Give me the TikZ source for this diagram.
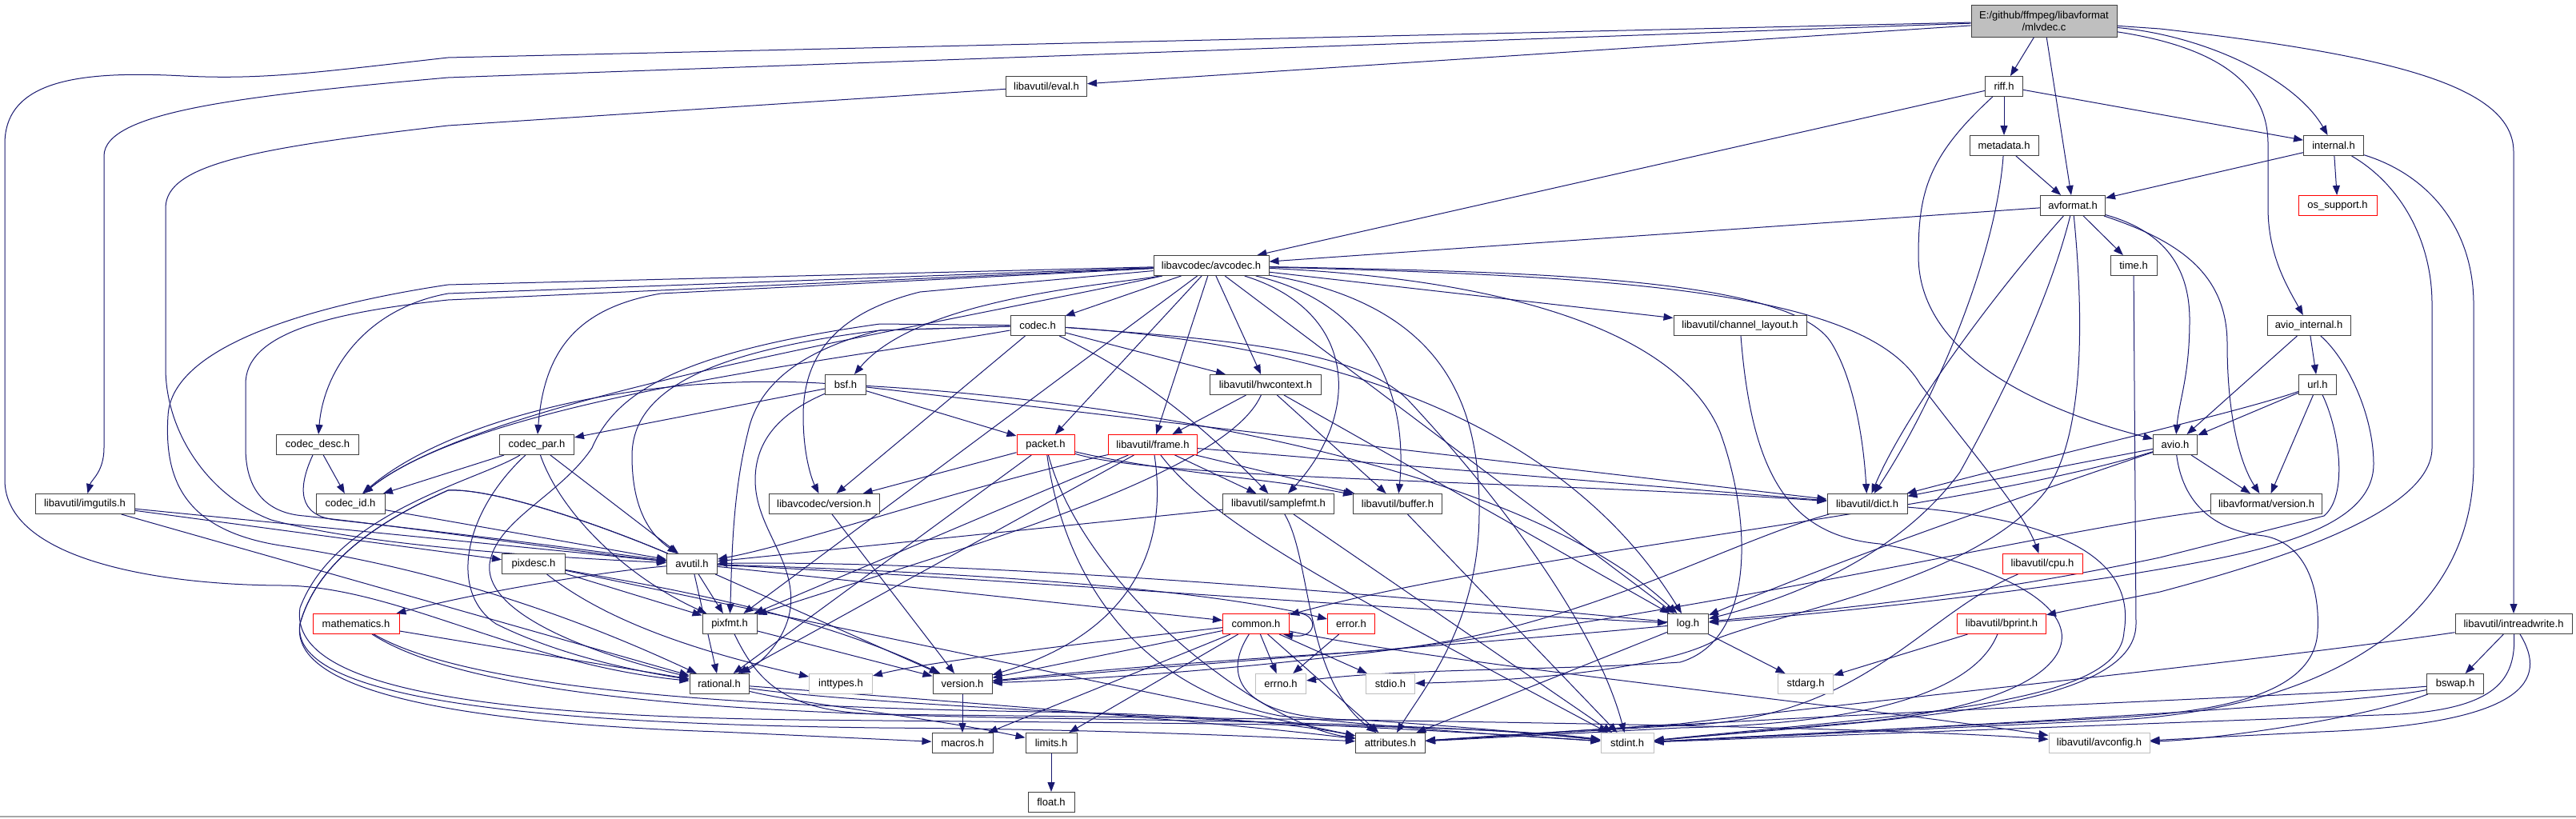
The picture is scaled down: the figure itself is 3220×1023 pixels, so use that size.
\documentclass[tikz,border=0pt]{standalone}
\usepackage{fontspec}
\setmainfont{Liberation Sans}
\usetikzlibrary{arrows.meta}
\definecolor{edgec}{HTML}{191970}
\definecolor{boxc}{HTML}{404040}
\definecolor{grayc}{HTML}{BFBFBF}
\pgfdeclarelayer{bg}
\pgfsetlayers{bg,main}
\begin{document}
\begin{tikzpicture}[x=1pt,y=-1pt,
  nb/.style={draw=boxc, fill=white, line width=1pt, minimum height=25pt, inner sep=0pt, font=\fontsize{13}{15}\selectfont},
  nred/.style={nb, draw=red},
  ngray/.style={nb, draw=grayc},
  e/.style={draw=edgec, line width=1pt, -{Triangle[length=12pt,width=9pt]}}]
\useasboundingbox (0,0) rectangle (3220,1023);
% nodes
\node[nb, fill=grayc, minimum width=182pt, minimum height=40pt, align=center] (mainfile) at (2555,26) {E:/github/ffmpeg/libavformat\\/mlvdec.c};
\node[nb, minimum width=47pt] (riff) at (2505,108) {riff.h};
\node[nb, minimum width=101pt] (eval) at (1308,108) {libavutil/eval.h};
\node[nb, minimum width=86pt] (metadata) at (2505,182) {metadata.h};
\node[nb, minimum width=75pt] (internal) at (2917,182) {internal.h};
\node[nb, minimum width=81pt] (avformat) at (2591,257) {avformat.h};
\node[nred, minimum width=98pt] (osupport) at (2922,257) {os\_support.h};
\node[nb, minimum width=144pt] (avcodec) at (1514,332) {libavcodec/avcodec.h};
\node[nb, minimum width=58pt] (timeh) at (2667,332) {time.h};
\node[nb, minimum width=68pt] (codec) at (1297,407) {codec.h};
\node[nb, minimum width=166pt] (chlayout) at (2175,407) {libavutil/channel\_layout.h};
\node[nb, minimum width=104pt] (avioint) at (2886,407) {avio\_internal.h};
\node[nb, minimum width=51pt] (bsf) at (1057,481) {bsf.h};
\node[nb, minimum width=139pt] (hwcontext) at (1582,481) {libavutil/hwcontext.h};
\node[nb, minimum width=47pt] (url) at (2897,481) {url.h};
\node[nb, minimum width=103pt] (codecdesc) at (397,556) {codec\_desc.h};
\node[nb, minimum width=93pt] (codecpar) at (671,556) {codec\_par.h};
\node[nred, minimum width=72pt] (packet) at (1307,556) {packet.h};
\node[nred, minimum width=111pt] (frame) at (1441,556) {libavutil/frame.h};
\node[nb, minimum width=55pt] (avio) at (2719,556) {avio.h};
\node[nb, minimum width=124pt] (imgutils) at (106,630) {libavutil/imgutils.h};
\node[nb, minimum width=86pt] (codecid) at (438,630) {codec\_id.h};
\node[nb, minimum width=138pt] (lcversion) at (1030,630) {libavcodec/version.h};
\node[nb, minimum width=139pt] (samplefmt) at (1598,630) {libavutil/samplefmt.h};
\node[nb, minimum width=111pt] (buffer) at (1747,630) {libavutil/buffer.h};
\node[nb, minimum width=100pt] (dict) at (2334,630) {libavutil/dict.h};
\node[nb, minimum width=139pt] (lfversion) at (2833,630) {libavformat/version.h};
\node[nb, minimum width=79pt] (pixdesc) at (667,705) {pixdesc.h};
\node[nb, minimum width=63pt] (avutil) at (865,705) {avutil.h};
\node[nred, minimum width=100pt] (cpu) at (2553,705) {libavutil/cpu.h};
\node[nred, minimum width=108pt] (mathematics) at (445,780) {mathematics.h};
\node[nb, minimum width=68pt] (pixfmt) at (912,780) {pixfmt.h};
\node[nred, minimum width=83pt] (common) at (1570,780) {common.h};
\node[nred, minimum width=59pt] (errorh) at (1689,780) {error.h};
\node[nb, minimum width=51pt] (logh) at (2110,780) {log.h};
\node[nred, minimum width=111pt] (bprint) at (2502,780) {libavutil/bprint.h};
\node[nb, minimum width=146pt] (intreadwrite) at (3142,780) {libavutil/intreadwrite.h};
\node[nb, minimum width=74pt] (rational) at (899,855) {rational.h};
\node[ngray, minimum width=79pt] (inttypes) at (1051,855) {inttypes.h};
\node[nb, minimum width=74pt] (version) at (1203,855) {version.h};
\node[ngray, minimum width=63pt] (errno) at (1601,855) {errno.h};
\node[ngray, minimum width=61pt] (stdio) at (1738,855) {stdio.h};
\node[ngray, minimum width=69pt] (stdarg) at (2257,855) {stdarg.h};
\node[nb, minimum width=71pt] (bswap) at (3069,855) {bswap.h};
\node[nb, minimum width=76pt] (macros) at (1203,929) {macros.h};
\node[nb, minimum width=64pt] (limits) at (1314,929) {limits.h};
\node[nb, minimum width=87pt] (attributes) at (1738,929) {attributes.h};
\node[ngray, minimum width=66pt] (stdint) at (2034,929) {stdint.h};
\node[ngray, minimum width=126pt] (avconfig) at (2624,929) {libavutil/avconfig.h};
\node[nb, minimum width=58pt] (floath) at (1314,1003) {float.h};

\begin{pgfonlayer}{bg}
\fill[white] (0,0) rectangle (3220,1023);
\draw[black!35, line width=2pt] (0,1021) -- (3220,1021);
% main
\draw[e] (mainfile) -- (eval);
\draw[e] (mainfile) -- (560,72) .. controls (400,90) and (330,100) .. (230,95) .. controls (100,88) and (6,100) .. (6,180) -- (6,600) .. controls (6,700) and (200,732) .. (357,732) .. controls (500,735) and (650,830) .. (rational);
\draw[e] (mainfile) -- (560,97) .. controls (300,120) and (130,140) .. (130,195) -- (130,560) .. controls (130,590) and (114,600) .. (imgutils);
\draw[e] (mainfile) -- (2700,36) .. controls (3000,70) and (3142,110) .. (3142,190) -- (intreadwrite);
\draw[e] (mainfile) .. controls (2760,45) and (2870,100) .. (internal);
\draw[e] (mainfile) .. controls (2780,60) and (2835,110) .. (2835,180) -- (2835,260) .. controls (2835,320) and (2860,360) .. (avioint);
\draw[e] (mainfile) -- (riff);
\draw[e] (mainfile) -- (avformat);
% riff
\draw[e] (riff) -- (avcodec);
\draw[e] (riff) -- (internal);
\draw[e] (riff) -- (metadata);
\draw[e] (riff) .. controls (2410,195) and (2398,240) .. (2398,320) .. controls (2398,440) and (2540,510) .. (avio);
% metadata
\draw[e] (metadata) -- (avformat);
\draw[e] (metadata) .. controls (2495,320) and (2420,500) .. (dict);
% avformat
\draw[e] (avformat) -- (avcodec);
\draw[e] (avformat) -- (timeh);
\draw[e] (avformat) .. controls (2490,370) and (2380,520) .. (dict);
\draw[e] (avformat) .. controls (2560,380) and (2500,500) .. (2450,590) .. controls (2370,700) and (2230,750) .. (logh);
\draw[e] (avformat) .. controls (2605,400) and (2605,540) .. (2560,610) .. controls (2480,720) and (2250,760) .. (2150,797) .. controls (2100,830) and (1950,850) .. (stdio);
\draw[e] (avformat) .. controls (2690,285) and (2737,320) .. (2737,400) .. controls (2737,470) and (2724,500) .. (avio);
\draw[e] (avformat) .. controls (2720,300) and (2784,340) .. (2784,430) .. controls (2784,520) and (2800,580) .. (lfversion);
% time
\draw[e] (timeh) -- (2670,780) .. controls (2670,890) and (2350,900) .. (stdint);
% internal
\draw[e] (internal) -- (osupport);
\draw[e] (internal) -- (avformat);
\draw[e] (internal) .. controls (3000,230) and (3040,300) .. (3040,380) -- (3040,560) .. controls (3040,640) and (2850,700) .. (2700,740) -- (bprint);
\draw[e] (internal) .. controls (3040,220) and (3092,290) .. (3092,380) -- (3092,580) .. controls (3092,780) and (2900,885) .. (2650,900) -- (stdint);
% avio_internal
\draw[e] (avioint) -- (url);
\draw[e] (avioint) -- (avio);
\draw[e] (avioint) .. controls (2935,450) and (2967,520) .. (2967,580) .. controls (2967,670) and (2800,695) .. (2650,720) .. controls (2450,750) and (2250,770) .. (logh);
% url
\draw[e] (url) -- (avio);
\draw[e] (url) .. controls (2800,515) and (2600,560) .. (dict);
\draw[e] (url) -- (lfversion);
\draw[e] (url) .. controls (2925,540) and (2935,620) .. (2905,645) -- (2700,697) .. controls (2450,750) and (2250,765) .. (logh);
% avio
\draw[e] (avio) -- (lfversion);
\draw[e] (avio) -- (dict);
\draw[e] (avio) .. controls (2450,640) and (1900,690) .. (common);
\draw[e] (avio) .. controls (2500,630) and (2300,700) .. (logh);
\draw[e] (avio) .. controls (2730,640) and (2780,665) .. (2830,670) .. controls (2885,680) and (2900,740) .. (2897,790) .. controls (2893,860) and (2800,888) .. (2650,897) -- (stdint);
% libavformat/version
\draw[e] (lfversion) .. controls (2500,670) and (1900,830) .. (version);
% avcodec
\draw[e] (avcodec) -- (codec);
\draw[e] (avcodec) -- (hwcontext);
\draw[e] (avcodec) -- (chlayout);
\draw[e] (avcodec) .. controls (1400,355) and (1150,370) .. (bsf);
\draw[e] (avcodec) -- (560,367) .. controls (460,385) and (405,460) .. (codecdesc);
\draw[e] (avcodec) -- (560,375) .. controls (400,392) and (307,420) .. (307,480) -- (307,560) .. controls (307,620) and (340,642) .. (380,645) .. controls (520,660) and (720,690) .. (avutil);
\draw[e] (avcodec) -- (560,356) .. controls (400,380) and (214,430) .. (210,520) .. controls (205,600) and (230,665) .. (357,683) .. controls (600,720) and (780,800) .. (rational);
\draw[e] (avcodec) .. controls (1100,420) and (600,500) .. (codecid);
\draw[e] (avcodec) -- (826,367) .. controls (720,385) and (680,440) .. (codecpar);
\draw[e] (avcodec) -- (1150,365) .. controls (1050,390) and (1004,440) .. (1004,520) .. controls (1004,570) and (1015,600) .. (lcversion);
\draw[e] (avcodec) -- (packet);
\draw[e] (avcodec) -- (frame);
\draw[e] (avcodec) -- (pixfmt);
\draw[e] (avcodec) .. controls (1700,390) and (1700,520) .. (samplefmt);
\draw[e] (avcodec) .. controls (1720,380) and (1760,500) .. (buffer);
\draw[e] (avcodec) -- (logh);
\draw[e] (avcodec) .. controls (1900,340) and (2240,345) .. (2290,430) .. controls (2320,480) and (2330,560) .. (dict);
\draw[e] (avcodec) .. controls (2000,345) and (2330,360) .. (2400,480) .. controls (2460,560) and (2530,640) .. (cpu);
\draw[e] (avcodec) .. controls (1800,380) and (1850,500) .. (1849,640) .. controls (1849,780) and (1780,860) .. (attributes);
\draw[e] (avcodec) .. controls (1900,350) and (2100,420) .. (2150,540) .. controls (2190,650) and (2195,800) .. (2100,828) .. controls (1950,838) and (1750,836) .. (errno);
% codec
\draw[e] (codec) -- (hwcontext);
\draw[e] (codec) -- (lcversion);
\draw[e] (codec) .. controls (1450,480) and (1530,560) .. (samplefmt);
\draw[e] (codec) .. controls (1650,430) and (1950,520) .. (logh);
\draw[e] (codec) .. controls (1550,425) and (1700,440) .. (1760,500) .. controls (1900,650) and (2000,800) .. (stdint);
\draw[e] (codec) -- (1100,405) .. controls (850,440) and (770,490) .. (740,560) .. controls (700,620) and (620,650) .. (612,705) .. controls (605,770) and (750,820) .. (rational);
\draw[e] (codec) -- (1100,413) .. controls (880,440) and (790,490) .. (790,570) .. controls (790,640) and (815,670) .. (avutil);
\draw[e] (codec) -- (1100,413) .. controls (1020,433) and (950,470) .. (935,540) .. controls (915,620) and (915,700) .. (pixfmt);
\draw[e] (codec) .. controls (1050,450) and (600,500) .. (codecid);
% bsf
\draw[e] (bsf) -- (codecpar);
\draw[e] (bsf) -- (packet);
\draw[e] (bsf) .. controls (800,465) and (560,525) .. (codecid);
\draw[e] (bsf) -- (dict);
\draw[e] (bsf) .. controls (1400,500) and (1900,580) .. (logh);
\draw[e] (bsf) .. controls (990,510) and (944,540) .. (944,600) .. controls (944,660) and (995,700) .. (988,760) .. controls (983,800) and (950,830) .. (rational);
% codec_desc, codec_id
\draw[e] (codecdesc) -- (codecid);
\draw[e] (codecdesc) .. controls (372,610) and (372,645) .. (420,650) .. controls (600,670) and (750,690) .. (avutil);
\draw[e] (codecid) -- (avutil);
% codec_par
\draw[e] (codecpar) -- (codecid);
\draw[e] (codecpar) -- (avutil);
\draw[e] (codecpar) .. controls (700,640) and (780,720) .. (pixfmt);
\draw[e] (codecpar) .. controls (580,640) and (560,740) .. (620,780) .. controls (700,820) and (800,840) .. (rational);
\draw[e] (codecpar) .. controls (600,600) and (420,640) .. (375,760) .. controls (360,860) and (600,895) .. (1000,900) .. controls (1500,905) and (1850,905) .. (stdint);
% packet
\draw[e] (packet) -- (lcversion);
\draw[e] (packet) .. controls (1450,590) and (1600,600) .. (buffer);
\draw[e] (packet) .. controls (1450,600) and (1900,600) .. (dict);
\draw[e] (packet) -- (rational);
\draw[e] (packet) .. controls (1340,680) and (1450,790) .. (1520,840) .. controls (1580,885) and (1640,915) .. (attributes);
\draw[e] (packet) .. controls (1330,720) and (1420,860) .. (1600,895) .. controls (1800,915) and (1900,920) .. (stdint);
% frame
\draw[e] (frame) .. controls (1200,610) and (1000,680) .. (avutil);
\draw[e] (frame) -- (buffer);
\draw[e] (frame) -- (dict);
\draw[e] (frame) -- (samplefmt);
\draw[e] (frame) -- (pixfmt);
\draw[e] (frame) .. controls (1460,680) and (1420,790) .. (version);
\draw[e] (frame) -- (rational);
\draw[e] (frame) .. controls (1520,660) and (1700,750) .. (stdint);
% hwcontext
\draw[e] (hwcontext) -- (buffer);
\draw[e] (hwcontext) -- (frame);
\draw[e] (hwcontext) -- (logh);
\draw[e] (hwcontext) .. controls (1530,600) and (1150,700) .. (pixfmt);
% samplefmt, buffer
\draw[e] (samplefmt) -- (stdint);
\draw[e] (samplefmt) -- (avutil);
\draw[e] (samplefmt) .. controls (1640,700) and (1630,850) .. (attributes);
\draw[e] (buffer) -- (stdint);
% dict
\draw[e] (dict) .. controls (2580,650) and (2670,700) .. (2655,790) .. controls (2650,880) and (2400,892) .. (stdint);
\draw[e] (dict) .. controls (2150,680) and (1950,800) .. (1700,815) .. controls (1450,830) and (1300,845) .. (version);
% channel layout, cpu
\draw[e] (chlayout) .. controls (2190,600) and (2240,670) .. (2350,680) .. controls (2680,740) and (2640,880) .. (2300,905) -- (stdint);
\draw[e] (cpu) .. controls (2400,770) and (2330,900) .. (2100,907) -- (attributes);
% log
\draw[e] (logh) -- (stdarg);
\draw[e] (logh) .. controls (1700,740) and (1200,700) .. (avutil);
\draw[e] (logh) -- (attributes);
\draw[e] (logh) .. controls (1900,800) and (1500,830) .. (version);
% avutil
\draw[e] (avutil) .. controls (1200,720) and (1700,760) .. (logh);
\draw[e] (avutil) -- (pixfmt);
\draw[e] (avutil) -- (rational);
\draw[e] (avutil) -- (version);
\draw[e] (avutil) -- (common);
\draw[e] (avutil) .. controls (1200,715) and (1500,735) .. ([yshift=6pt]errorh.west);
\draw[e] (avutil) .. controls (750,715) and (600,740) .. (mathematics);
\draw[e] (avutil) .. controls (760,660) and (620,610) .. (560,613) .. controls (500,640) and (400,690) .. (375,780) .. controls (360,870) and (600,905) .. (900,915) -- (macros);
\draw[e] (avutil) .. controls (760,660) and (620,610) .. (560,613) .. controls (500,640) and (400,690) .. (375,780) .. controls (360,880) and (700,905) .. (1100,910) .. controls (1400,912) and (1600,922) .. (attributes);
% pixfmt
\draw[e] (pixfmt) -- (version);
\draw[e] (pixfmt) .. controls (950,860) and (990,890) .. (1100,893) .. controls (1500,898) and (2300,905) .. (avconfig);
% rational
\draw[e] (rational) .. controls (1100,885) and (1700,905) .. (stdint);
\draw[e] (rational) .. controls (1000,880) and (1150,895) .. (limits);
\draw[e] (rational) .. controls (1100,870) and (1500,900) .. (attributes);
% pixdesc
\draw[e] (pixdesc) .. controls (750,770) and (850,810) .. (inttypes);
\draw[e] (pixdesc) -- (attributes);
\draw[e] (pixdesc) -- (pixfmt);
\draw[e] (pixdesc) .. controls (800,730) and (1000,760) .. (version);
% imgutils
\draw[e] (imgutils) -- (avutil);
\draw[e] (imgutils) -- (pixdesc);
\draw[e] (imgutils) -- (rational);
% versions
\draw[e] (version) -- (macros);
\draw[e] (lcversion) -- (version);
% common
\draw[e] (common) -- (errno);
\draw[e] (common) .. controls (1300,810) and (1150,830) .. (inttypes);
\draw[e] (common) -- (limits);
\draw[e] (common) .. controls (1530,840) and (1540,900) .. (1700,900) .. controls (1850,910) and (1950,920) .. (stdint);
\draw[e] (common) -- (stdio);
\draw[e] (common) -- (attributes);
\draw[e] (common) -- (macros);
\draw[e] (common) -- (version);
\draw[e] (common) .. controls (1800,830) and (2300,880) .. (avconfig);
\draw[e] ([xshift=-2pt]common.north east) .. controls (1650,760) and (1650,800) .. ([xshift=-8pt]common.south east);
% error, mathematics, limits
\draw[e] (errorh) -- (errno);
\draw[e] (mathematics) -- (rational);
\draw[e] (mathematics) .. controls (600,880) and (1000,893) .. (1300,898) .. controls (1600,902) and (1850,908) .. (stdint);
\draw[e] (mathematics) .. controls (600,870) and (1000,885) .. (1300,890) .. controls (1500,893) and (1620,905) .. (attributes);
\draw[e] (limits) -- (floath);
% bprint
\draw[e] (bprint) -- (stdarg);
\draw[e] (bprint) .. controls (2470,860) and (2350,905) .. (2100,910) -- (attributes);
% intreadwrite, bswap
\draw[e] (intreadwrite) -- (bswap);
\draw[e] (intreadwrite) .. controls (3145,850) and (3120,885) .. (3000,893) -- (stdint);
\draw[e] (intreadwrite) .. controls (3185,850) and (3160,905) .. (2900,915) -- (avconfig);
\draw[e] (intreadwrite) .. controls (2800,830) and (2300,880) .. (2100,905) -- (attributes);
\draw[e] (bswap) .. controls (2950,880) and (2500,905) .. (stdint);
\draw[e] (bswap) .. controls (2950,900) and (2760,925) .. (avconfig);
\draw[e] (bswap) .. controls (2900,870) and (2300,890) .. (attributes);
% eval
\draw[e] (eval) -- (560,157) .. controls (320,185) and (207,205) .. (207,260) -- (207,460) .. controls (207,540) and (260,620) .. (339,650) .. controls (450,680) and (650,695) .. (avutil);
\end{pgfonlayer}
\end{tikzpicture}
\end{document}
